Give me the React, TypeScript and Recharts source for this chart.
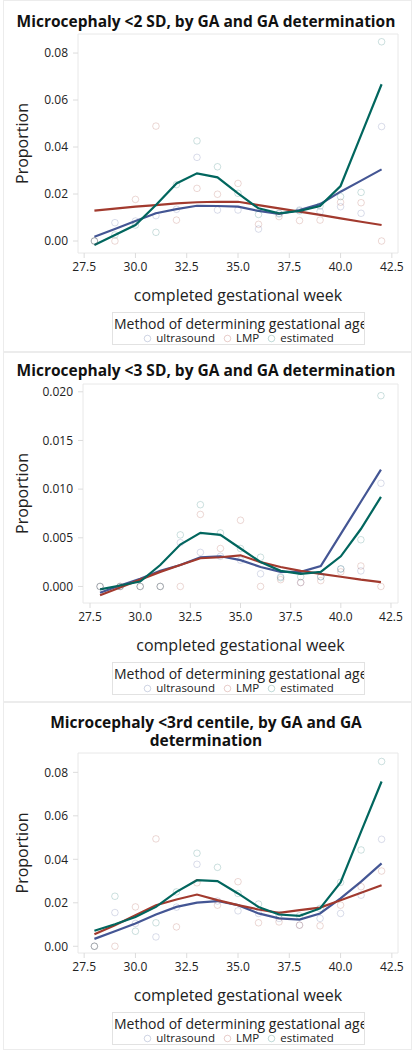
import React from 'react';
import { ComposedChart, Line, Scatter, XAxis, YAxis, ReferenceArea } from 'recharts';

const weeks = [28, 29, 30, 31, 32, 33, 34, 35, 36, 37, 38, 39, 40, 41, 42];
const methodNames = ['ultrasound', 'LMP', 'estimated'];
const methodColors = ['#445694', '#A23A2E', '#01665E'];
const xTicks = [27.5, 30, 32.5, 35, 37.5, 40, 42.5];
const yTicksWide = [0, 0.02, 0.04, 0.06, 0.08];
const yTicksNarrow = [0, 0.005, 0.01, 0.015, 0.02];

const titleSd2 = ['Microcephaly <2 SD, by GA and GA determination'];
const titleSd3 = ['Microcephaly <3 SD, by GA and GA determination'];
const titleCentile = ['Microcephaly <3rd centile, by GA and GA', 'determination'];
const xLabel = 'completed gestational week';
const yLabel = 'Proportion';
const legendTitle = 'Method of determining gestational age';

// Panel 1: <2 SD — fitted curves
const sd2Ultrasound = [0.0018, 0.0051, 0.0085, 0.0118, 0.0136, 0.015, 0.0149, 0.0146, 0.0128, 0.0115, 0.0132, 0.0157, 0.021, 0.0257, 0.0305];
const sd2Lmp = [0.0129, 0.0138, 0.0146, 0.0153, 0.016, 0.0165, 0.0167, 0.0167, 0.0153, 0.0139, 0.0125, 0.0111, 0.0096, 0.0082, 0.0068];
const sd2Estimated = [-0.0017, 0.0026, 0.0068, 0.0153, 0.0245, 0.0288, 0.0271, 0.0203, 0.0139, 0.0118, 0.0128, 0.0149, 0.0234, 0.0451, 0.0667];
// Panel 1: observed proportions
const sd2UltrasoundObs = [0, 0.0078, 0.0085, 0.0108, 0.0135, 0.0356, 0.0132, 0.0132, 0.0051, 0.0115, 0.0132, 0.0125, 0.0146, 0.0118, 0.0487];
const sd2LmpObs = [0, 0, 0.0177, 0.0489, 0.0089, 0.0224, 0.0199, 0.0245, 0.0071, 0.0104, 0.0087, 0.0089, 0.0165, 0.0163, 0];
const sd2EstimatedObs = [0, 0.0026, 0.0068, 0.0037, 0.024, 0.0426, 0.0316, 0.0203, 0.0113, 0.0118, 0.0128, 0.0149, 0.0189, 0.0207, 0.0848];

// Panel 2: <3 SD — fitted curves
const sd3Ultrasound = [-0.00065, 0.0001, 0.0008, 0.0016, 0.0022, 0.003, 0.0031, 0.0027, 0.002, 0.0015, 0.0015, 0.0021, 0.0054, 0.0087, 0.012];
const sd3Lmp = [-0.0009, -0.0001, 0.0007, 0.0015, 0.0022, 0.0029, 0.003, 0.0032, 0.0025, 0.002, 0.0016, 0.0013, 0.001, 0.0007, 0.00045];
const sd3Estimated = [-0.0003, 0.0001, 0.0005, 0.0022, 0.0043, 0.0055, 0.0053, 0.0039, 0.0025, 0.0016, 0.0013, 0.0015, 0.0031, 0.0059, 0.0092];
// Panel 2: observed proportions
const sd3UltrasoundObs = [0, 0, 0, 0, 0.0045, 0.0035, 0.0031, 0.0027, 0.0013, 0.001, 0.0004, 0.001, 0.0018, 0.0016, 0.0106];
const sd3LmpObs = [0, 0, 0, 0, 0, 0.0074, 0.0039, 0.0068, 0, 0.0007, 0.0004, 0.0006, 0.0015, 0.0021, 0];
const sd3EstimatedObs = [0, 0, 0, 0, 0.0053, 0.0084, 0.0055, 0.0039, 0.003, 0.0009, 0.001, 0.001, 0.0018, 0.0048, 0.0196];

// Panel 3: <3rd centile — fitted curves
const ctlUltrasound = [0.0034, 0.0069, 0.0105, 0.0146, 0.0181, 0.0201, 0.0208, 0.0189, 0.0151, 0.0128, 0.0123, 0.0151, 0.022, 0.0297, 0.0381];
const ctlLmp = [0.0055, 0.0097, 0.0143, 0.0189, 0.0215, 0.0238, 0.0212, 0.0189, 0.0169, 0.0154, 0.0166, 0.0178, 0.0212, 0.0246, 0.0281];
const ctlEstimated = [0.0071, 0.0101, 0.0135, 0.0181, 0.025, 0.0304, 0.03, 0.0243, 0.0181, 0.0146, 0.014, 0.0174, 0.0294, 0.0527, 0.0758];
// Panel 3: observed proportions
const ctlUltrasoundObs = [0, 0.0155, 0.0105, 0.0043, 0.018, 0.0377, 0.0208, 0.0163, 0.0151, 0.0128, 0.0097, 0.0128, 0.0151, 0.0235, 0.0492];
const ctlLmpObs = [0, 0, 0.0181, 0.0494, 0.0089, 0.0292, 0.0189, 0.0297, 0.0108, 0.0112, 0.0097, 0.0094, 0.0189, 0.0274, 0.0346];
const ctlEstimatedObs = [0, 0.023, 0.0069, 0.0108, 0.025, 0.0428, 0.0363, 0.0243, 0.0194, 0.0146, 0.014, 0.0174, 0.0294, 0.0443, 0.085];

const FONT = '"Open Sans", "DejaVu Sans", sans-serif';
const TEXT = '#222';

const toRows = (vals: number[]) => weeks.map((w, i) => ({ week: w, val: vals[i] }));

type PanelProps = {
  top: number;
  height: number;
  titleLines: string[];
  titleTop: number;
  plotTop: number;
  plotBottom: number;
  plotLeft: number;
  plotRight: number;
  xDomain: [number, number];
  yDomain: [number, number];
  yTicks: number[];
  yDigits: number;
  fits: number[][];
  obs: number[][];
  legendTop: number;
};

const Panel = (p: PanelProps) => {
  const chartHeight = p.plotBottom + 57;
  const circleShape = (color: string) => (props: any) => (
    <circle cx={props.cx} cy={props.cy} r={3.3} fill="none" stroke={color} strokeOpacity={0.2} strokeWidth={1} />
  );
  return (
    <>
      <div
        style={{
          position: 'absolute',
          left: 3,
          top: p.top,
          width: 409,
          height: p.height,
          border: '1px solid #ececec',
          boxSizing: 'border-box',
        }}
      />
      <div
        style={{
          position: 'absolute',
          left: 0,
          top: p.top + p.titleTop,
          width: 412,
          textAlign: 'center',
          fontFamily: FONT,
          fontWeight: 700,
          fontSize: 15.5,
          lineHeight: '18px',
          color: '#111',
        }}
      >
        {p.titleLines.map((t, i) => (
          <div key={i}>{t}</div>
        ))}
      </div>
      <div style={{ position: 'absolute', left: 0, top: p.top }}>
        <ComposedChart
          width={412}
          height={chartHeight}
          margin={{ top: p.plotTop, right: 412 - p.plotRight, bottom: 0, left: 0 }}
        >
          <XAxis
            type="number"
            dataKey="week"
            domain={p.xDomain}
            ticks={xTicks}
            allowDataOverflow
            height={57}
            axisLine={false}
            tickLine={{ stroke: '#dcdcdc' }}
            tickSize={5}
            tickMargin={4}
            tick={{ fontSize: 12, fill: TEXT, fontFamily: FONT }}
            tickFormatter={(v: number) => v.toFixed(1)}
            label={{ value: xLabel, position: 'insideBottom', offset: 9, style: { fontSize: 16, fill: TEXT, fontFamily: FONT } }}
          />
          <YAxis
            type="number"
            dataKey="val"
            domain={p.yDomain}
            ticks={p.yTicks}
            allowDataOverflow
            width={p.plotLeft}
            axisLine={false}
            tickLine={{ stroke: '#dcdcdc' }}
            tickSize={5}
            tickMargin={5}
            tick={{ fontSize: 12, fill: TEXT, fontFamily: FONT }}
            tickFormatter={(v: number) => v.toFixed(p.yDigits)}
            label={{
              value: yLabel,
              angle: -90,
              position: 'insideLeft',
              offset: 22,
              style: { textAnchor: 'middle', fontSize: 16, fill: TEXT, fontFamily: FONT },
            }}
          />
          <ReferenceArea
            x1={p.xDomain[0]}
            x2={p.xDomain[1]}
            y1={p.yDomain[0]}
            y2={p.yDomain[1]}
            fill="none"
            fillOpacity={0}
            stroke="#e8e8e8"
            ifOverflow="visible"
          />
          {p.obs.map((vals, i) => (
            <Scatter
              key={'s' + i}
              name={methodNames[i] + ' observed'}
              data={toRows(vals)}
              dataKey="val"
              shape={circleShape(methodColors[i])}
              isAnimationActive={false}
            />
          ))}
          {p.fits.map((vals, i) => (
            <Line
              key={'l' + i}
              name={methodNames[i]}
              data={toRows(vals)}
              dataKey="val"
              type="linear"
              stroke={methodColors[i]}
              strokeWidth={2.2}
              dot={false}
              activeDot={false}
              isAnimationActive={false}
            />
          ))}
        </ComposedChart>
      </div>
      <div
        style={{
          position: 'absolute',
          left: 112,
          top: p.top + p.legendTop,
          width: 253,
          height: 33,
          border: '1px solid #e2e2e2',
          boxSizing: 'border-box',
          background: '#fff',
          overflow: 'hidden',
          fontFamily: FONT,
          color: TEXT,
        }}
      >
        <div style={{ whiteSpace: 'nowrap', fontSize: 14, lineHeight: '15px', marginTop: 3, paddingLeft: 1 }}>
          {legendTitle}
        </div>
        <div
          style={{
            display: 'flex',
            justifyContent: 'center',
            alignItems: 'center',
            fontSize: 11.5,
            lineHeight: '12px',
            marginTop: 1,
          }}
        >
          {methodNames.map((m, i) => (
            <span key={m} style={{ display: 'inline-flex', alignItems: 'center', marginRight: i < 2 ? 8 : 0 }}>
              <svg width={9} height={9} style={{ marginRight: 4 }}>
                <circle cx={4.5} cy={4.5} r={3.3} fill="none" stroke={methodColors[i]} strokeOpacity={0.25} />
              </svg>
              {m}
            </span>
          ))}
        </div>
      </div>
    </>
  );
};

export default function App() {
  return (
    <div style={{ position: 'absolute', left: 0, top: 0, width: 412, height: 1050, background: '#fff', fontFamily: FONT }}>
      <Panel
        top={0}
        height={352}
        titleLines={titleSd2}
        titleTop={12}
        plotTop={34}
        plotBottom={253}
        plotLeft={78}
        plotRight={398}
        xDomain={[27.2, 42.8]}
        yDomain={[-0.0051, 0.0881]}
        yTicks={yTicksWide}
        yDigits={2}
        fits={[sd2Ultrasound, sd2Lmp, sd2Estimated]}
        obs={[sd2UltrasoundObs, sd2LmpObs, sd2EstimatedObs]}
        legendTop={312}
      />
      <Panel
        top={352}
        height={350}
        titleLines={titleSd3}
        titleTop={9}
        plotTop={32}
        plotBottom={251}
        plotLeft={83}
        plotRight={398}
        xDomain={[27.15, 42.85]}
        yDomain={[-0.0017, 0.0208]}
        yTicks={yTicksNarrow}
        yDigits={3}
        fits={[sd3Ultrasound, sd3Lmp, sd3Estimated]}
        obs={[sd3UltrasoundObs, sd3LmpObs, sd3EstimatedObs]}
        legendTop={310}
      />
      <Panel
        top={702}
        height={348}
        titleLines={titleCentile}
        titleTop={11}
        plotTop={51}
        plotBottom={251}
        plotLeft={78}
        plotRight={398}
        xDomain={[27.2, 42.8]}
        yDomain={[-0.0031, 0.0889]}
        yTicks={yTicksWide}
        yDigits={2}
        fits={[ctlUltrasound, ctlLmp, ctlEstimated]}
        obs={[ctlUltrasoundObs, ctlLmpObs, ctlEstimatedObs]}
        legendTop={310}
      />
    </div>
  );
}
